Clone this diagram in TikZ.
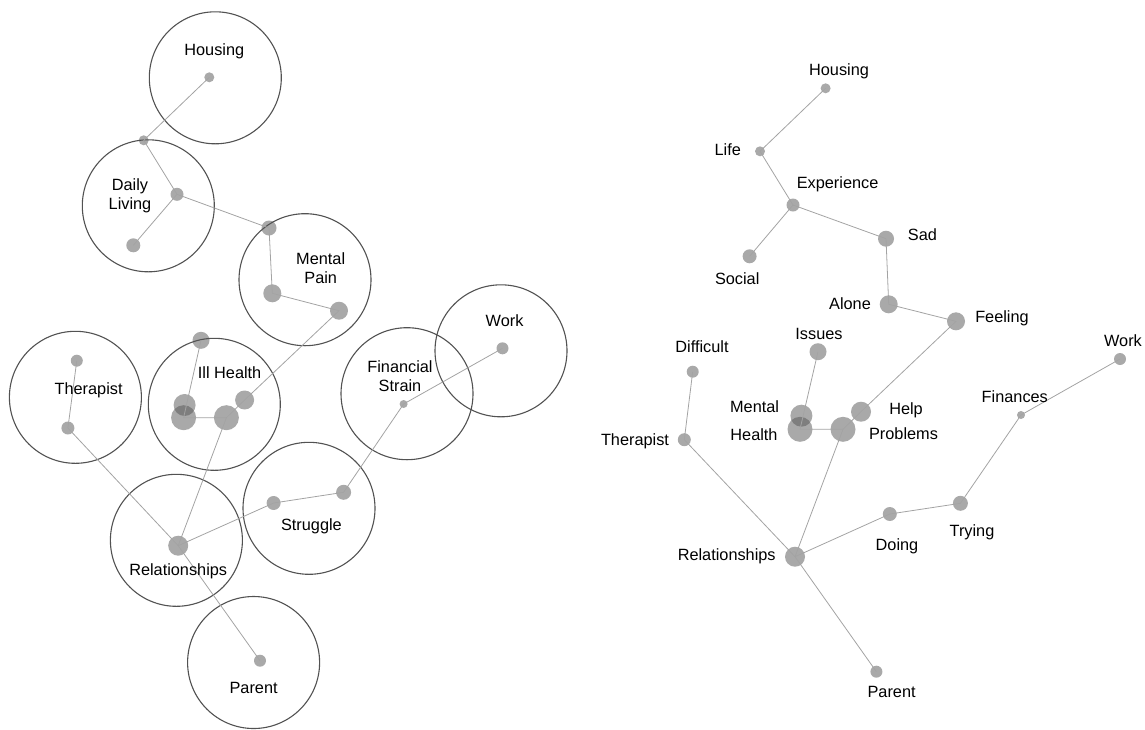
\documentclass[tikz,border=0pt]{standalone}
\usepackage{fontspec}
\setmainfont{Liberation Sans}
\begin{document}
\begin{tikzpicture}[x=1pt,y=-1pt,
  dot/.style={circle, fill=black!67, fill opacity=0.5, draw=none, inner sep=0pt},
  link/.style={draw=black!36, line width=0.8pt},
  ring/.style={circle, draw=black!68, line width=1.1pt, minimum size=132pt, inner sep=0pt},
  lbl/.style={font=\fontsize{16.3}{19}\selectfont, align=center, inner sep=0pt, text=black}]
\useasboundingbox (0,0) rectangle (1145,729);
\newcommand\mydot[4]{\node[dot, minimum size=#4pt] (#1) at (#2,#3) {};}
% ---------------- left panel: circles
\node[ring] (cHousing) at (215.3,77.8) {};
\node[ring] (cDaily) at (148.3,205.8) {};
\node[ring] (cMental) at (305,279.7) {};
\node[ring] (cTherapist) at (75.4,397.3) {};
\node[ring] (cIll) at (214.3,404.3) {};
\node[ring] (cFin) at (407,393.7) {};
\node[ring] (cWork) at (501,350.8) {};
\node[ring] (cStruggle) at (309,508.3) {};
\node[ring] (cRel) at (176.4,540.3) {};
\node[ring] (cParent) at (253.6,662.5) {};
% left dots
\mydot{aHousing}{209.3}{77.3}{10}
\mydot{aLife}{143.7}{140.3}{10}
\mydot{aExperience}{177}{194.3}{13}
\mydot{aSocial}{133.3}{245.3}{14}
\mydot{aSad}{269}{228}{15}
\mydot{aAlone}{272.3}{293.3}{18}
\mydot{aFeeling}{339}{310.7}{18}
\mydot{aIssues}{201}{340.3}{17}
\mydot{aMental}{184.6}{405}{22}
\mydot{aHealth}{183.6}{417.7}{25}
\mydot{aProblems}{226.4}{417.7}{25}
\mydot{aHelp}{244.6}{400}{19}
\mydot{aDifficult}{76.8}{360.7}{12}
\mydot{aTherapist}{67.9}{428}{13}
\mydot{aRel}{178.2}{545.7}{20}
\mydot{aDoing}{273.6}{503}{14}
\mydot{aTrying}{343.6}{492.3}{15}
\mydot{aFinances}{403.6}{404}{8}
\mydot{aWork}{502.5}{348.3}{12}
\mydot{aParent}{260}{660.7}{12}
% left links
\draw[link] (aHousing.center) -- (aLife.center) -- (aExperience.center) -- (aSocial.center);
\draw[link] (aExperience.center) -- (aSad.center) -- (aAlone.center) -- (aFeeling.center) -- (aHelp.center) -- (aProblems.center) -- (aRel.center);
\draw[link] (aIssues.center) -- (aHealth.center) -- (aProblems.center);
\draw[link] (aDifficult.center) -- (aTherapist.center) -- (aRel.center) -- (aParent.center);
\draw[link] (aRel.center) -- (aDoing.center) -- (aTrying.center) -- (aFinances.center) -- (aWork.center);
% left labels
\node[lbl] (tHousing) at (214.3,51) {Housing};
\node[lbl] (tDaily) at (130,196) {Daily\\Living};
\node[lbl] (tMental) at (320.7,268) {Mental\\Pain};
\node[lbl] (tWork) at (504.6,320.7) {Work};
\node[lbl] (tFin) at (400,375.7) {Financial\\Strain};
\node[lbl] (tIll) at (229.6,373) {Ill Health};
\node[lbl] (tTherapist) at (88.6,390) {Therapist};
\node[lbl] (tStruggle) at (311.4,526.7) {Struggle};
\node[lbl] (tRel) at (178.2,571) {Relationships};
\node[lbl] (tParent) at (253.6,688) {Parent};
% ---------------- right panel: dots
\mydot{bHousing}{825.6}{88.3}{10}
\mydot{bLife}{760}{151.3}{10}
\mydot{bExperience}{793}{205}{13}
\mydot{bSocial}{749.6}{256.3}{14}
\mydot{bSad}{886}{238.7}{16}
\mydot{bAlone}{888.7}{304.3}{18}
\mydot{bFeeling}{956}{321.3}{18}
\mydot{bIssues}{818}{351.7}{17}
\mydot{bDifficult}{692.7}{371.7}{12}
\mydot{bWork}{1120}{359}{12}
\mydot{bMental}{801.4}{415.7}{22}
\mydot{bHealth}{800}{429.3}{25}
\mydot{bHelp}{861}{411.7}{20}
\mydot{bProblems}{843}{429.3}{25}
\mydot{bTherapist}{684.3}{439.7}{13}
\mydot{bFinances}{1021}{415}{8}
\mydot{bTrying}{960.4}{503.3}{15}
\mydot{bDoing}{889.8}{514}{14}
\mydot{bRel}{795}{556.7}{20}
\mydot{bParent}{876.4}{671.7}{12}
% right links
\draw[link] (bHousing.center) -- (bLife.center) -- (bExperience.center) -- (bSocial.center);
\draw[link] (bExperience.center) -- (bSad.center) -- (bAlone.center) -- (bFeeling.center) -- (bHelp.center) -- (bProblems.center) -- (bRel.center);
\draw[link] (bIssues.center) -- (bHealth.center) -- (bProblems.center);
\draw[link] (bDifficult.center) -- (bTherapist.center) -- (bRel.center) -- (bParent.center);
\draw[link] (bRel.center) -- (bDoing.center) -- (bTrying.center) -- (bFinances.center) -- (bWork.center);
% right labels
\node[lbl] (uHousing) at (839,71) {Housing};
\node[lbl] (uLife) at (727.8,149.3) {Life};
\node[lbl] (uExperience) at (837.6,184) {Experience};
\node[lbl] (uSocial) at (737.2,278.3) {Social};
\node[lbl] (uSad) at (922.4,234.3) {Sad};
\node[lbl] (uAlone) at (850,303.3) {Alone};
\node[lbl] (uFeeling) at (1002,318.3) {Feeling};
\node[lbl] (uIssues) at (819,334.3) {Issues};
\node[lbl] (uDifficult) at (702,347) {Difficult};
\node[lbl] (uWork) at (1123,341) {Work};
\node[lbl] (uMental) at (754.6,406.7) {Mental};
\node[lbl] (uHealth) at (754,435) {Health};
\node[lbl] (uHelp) at (906,410) {Help};
\node[lbl] (uProblems) at (903.5,434) {Problems};
\node[lbl] (uTherapist) at (635,441) {Therapist};
\node[lbl] (uFinances) at (1014.8,396.7) {Finances};
\node[lbl] (uTrying) at (972,532) {Trying};
\node[lbl] (uDoing) at (897,546) {Doing};
\node[lbl] (uRel) at (726.7,556.7) {Relationships};
\node[lbl] (uParent) at (891.6,692.3) {Parent};
\end{tikzpicture}
\end{document}
